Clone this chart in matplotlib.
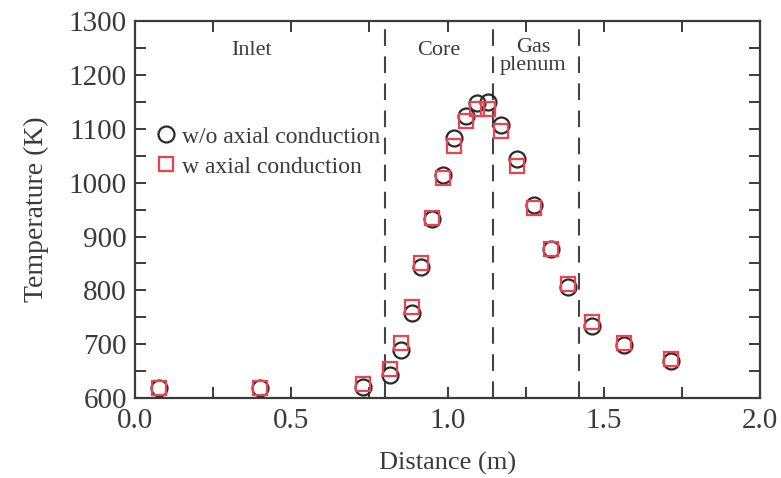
import matplotlib
matplotlib.use("Agg")
import matplotlib.pyplot as plt
from matplotlib.ticker import MultipleLocator

# Data
dist = [0.078, 0.40, 0.73, 0.817, 0.852, 0.885, 0.916, 0.951, 0.987, 1.022,
        1.058, 1.094, 1.129, 1.171, 1.224, 1.278, 1.332, 1.386, 1.464, 1.565, 1.715]
t_wo = [619, 619, 620, 643, 689, 758, 843, 933, 1015, 1082,
        1124, 1147, 1149, 1107, 1043, 959, 876, 807, 734, 699, 669]
t_w = [619, 619, 626, 655, 702, 770, 850, 934, 1008, 1068,
       1115, 1136, 1136, 1095, 1031, 953, 876, 812, 742, 703, 672]
boundaries = [0.80, 1.147, 1.42]
region_labels = ["Inlet", "Core", "Gas\nplenum"]
region_x = [0.372, 0.971, 1.275]
series_labels = ["w/o axial conduction", "w axial conduction"]

plt.rcParams['font.family'] = ['Liberation Serif', 'DejaVu Serif']
ink = '#3a3a3a'
red = '#e8434f'

fig = plt.figure(figsize=(7.81, 4.78), dpi=100)
ax = fig.add_axes([0.173, 0.167, 0.800, 0.789])

ax.plot(dist, t_wo, linestyle='none', marker='o', ms=11.5, mfc='none',
        mec='#2a2a2a', mew=1.6, label=series_labels[0], zorder=3)
ax.plot(dist, t_w, linestyle='none', marker='s', ms=10, mfc='none',
        mec=red, mew=1.6, label=series_labels[1], zorder=4)

for b in boundaries:
    ax.axvline(b, color='#444444', lw=1.5, dashes=(8, 5))

ax.text(region_x[0], 1245, region_labels[0], ha='center', va='center', fontsize=16, color=ink)
ax.text(region_x[1], 1245, region_labels[1], ha='center', va='center', fontsize=16, color=ink)
ax.text(region_x[2], 1234, region_labels[2], ha='center', va='center', fontsize=16,
        color=ink, linespacing=0.95)

ax.set_xlim(0, 2.0)
ax.set_ylim(600, 1300)
ax.xaxis.set_major_locator(MultipleLocator(0.5))
ax.xaxis.set_minor_locator(MultipleLocator(0.25))
ax.yaxis.set_major_locator(MultipleLocator(100))
ax.yaxis.set_minor_locator(MultipleLocator(50))
ax.xaxis.set_major_formatter(matplotlib.ticker.FormatStrFormatter('%.1f'))
ax.tick_params(which='both', direction='in', top=True, right=True, color=ink, width=1.4,
               labelsize=21, labelcolor=ink)
ax.tick_params(axis='x', pad=7)
ax.tick_params(axis='y', pad=6)
ax.tick_params(which='major', length=8)
ax.tick_params(which='minor', length=8)
for s in ax.spines.values():
    s.set_color(ink)
    s.set_linewidth(1.6)

ax.set_xlabel("Distance (m)", fontsize=19, color=ink, labelpad=13)
ax.set_ylabel("Temperature (K)", fontsize=20, color=ink, labelpad=14)

ax.legend(loc='upper left', bbox_to_anchor=(0.0, 0.765), frameon=False, fontsize=17,
          handletextpad=0.1, labelspacing=0.35, borderaxespad=0.3, handlelength=1.2,
          labelcolor=ink)

fig.savefig("out.png", dpi=100, facecolor='white')
